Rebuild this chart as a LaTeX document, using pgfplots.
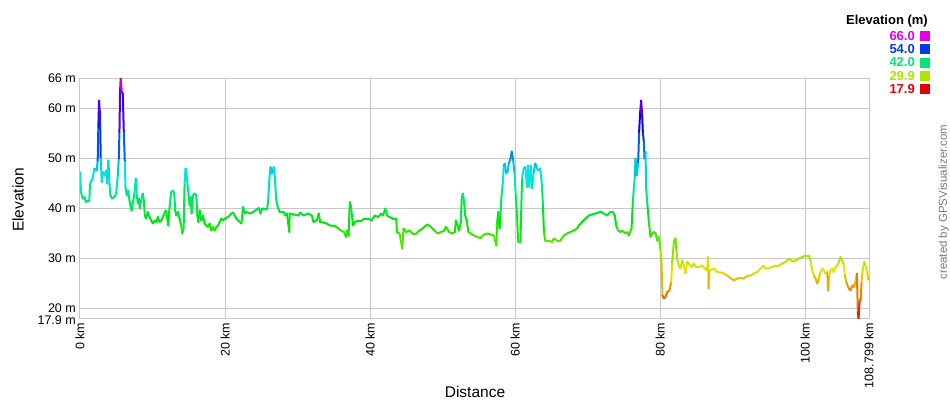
\documentclass[border=0pt]{standalone}
\usepackage{fontspec}
\setmainfont{Liberation Sans}
\usepackage{pgfplots}
\pgfplotsset{compat=1.18}

\definecolor{gridgray}{RGB}{200,200,200}
\definecolor{credgray}{RGB}{120,120,120}
\definecolor{k66}{RGB}{230,0,230}
\definecolor{k54}{RGB}{0,59,230}
\definecolor{k42}{RGB}{0,230,116}
\definecolor{k30}{RGB}{173,230,0}
\definecolor{k18}{RGB}{230,0,0}

\pgfplotstableread{
km elev
0.00 47.2
0.14 43.2
0.37 41.9
0.60 42.2
0.83 41.2
1.06 41.5
1.29 41.5
1.38 44.9
1.75 45.9
1.98 47.9
2.30 47.5
2.44 49.5
2.53 56.2
2.63 61.5
2.76 58.5
2.86 49.9
3.00 45.2
3.13 47.2
3.36 46.5
3.59 47.5
3.73 44.9
3.92 49.5
4.06 44.9
4.19 42.5
4.42 41.9
4.75 42.2
4.98 42.9
5.21 46.5
5.35 49.9
5.44 55.2
5.53 63.9
5.62 66.0
5.76 63.2
5.90 62.9
6.04 55.2
6.18 49.2
6.27 44.2
6.45 42.5
6.64 43.5
6.82 41.5
6.96 40.5
7.10 39.5
7.28 40.9
7.51 42.9
7.70 45.9
7.83 42.5
7.97 40.9
8.11 41.9
8.25 39.9
8.43 41.5
8.66 42.9
8.80 41.5
8.94 38.5
9.12 37.9
9.35 39.2
9.59 38.2
9.82 37.5
10.05 36.9
10.28 37.5
10.51 37.2
10.74 38.2
10.97 37.2
11.20 37.5
11.52 38.5
11.80 39.5
11.98 38.5
12.17 36.5
12.35 40.2
12.58 43.2
12.81 43.5
13.00 42.9
13.13 39.5
13.27 38.5
13.50 39.2
13.73 37.9
13.96 36.5
14.10 34.9
14.29 35.9
14.42 44.9
14.56 47.9
14.70 46.5
14.84 44.5
14.98 42.5
15.12 40.5
15.25 42.2
15.39 38.9
15.58 42.5
15.81 42.9
16.04 42.5
16.18 38.5
16.31 37.2
16.50 39.5
16.73 37.5
16.96 38.5
17.19 36.9
17.42 36.5
17.65 36.2
17.88 36.9
18.11 35.5
18.34 36.2
18.57 35.5
18.80 36.2
19.03 36.5
19.26 37.2
19.49 37.9
19.72 37.5
20.00 37.9
20.41 38.2
20.88 38.9
21.11 39.1
21.34 38.5
21.57 37.9
21.80 37.5
22.03 37.2
22.26 36.9
22.49 40.2
22.72 38.9
22.95 39.2
23.41 38.9
23.97 39.3
24.66 40.0
24.89 38.9
25.11 39.9
25.80 39.7
25.94 41.5
26.12 45.9
26.26 48.2
26.48 46.9
26.71 48.2
26.89 45.9
27.03 41.9
27.26 40.2
27.53 39.2
28.08 39.2
28.31 38.5
28.54 38.9
28.86 35.2
28.90 38.9
29.45 38.7
30.14 38.5
30.37 39.1
30.82 38.5
31.51 38.9
31.96 38.5
32.19 37.2
32.65 37.5
32.92 38.9
33.11 37.2
33.56 37.1
34.02 36.9
34.47 36.5
35.16 36.4
35.62 35.9
36.07 35.4
36.44 35.2
36.67 34.2
36.85 35.5
37.03 34.5
37.21 41.2
37.35 40.5
37.49 38.5
37.67 36.5
37.90 37.2
38.36 37.5
38.81 37.5
39.27 37.9
39.73 37.9
40.18 37.5
40.64 38.5
41.10 38.2
41.55 38.9
41.78 38.5
42.10 39.9
42.33 38.5
42.69 38.2
43.15 37.9
43.61 37.9
43.70 35.2
44.06 34.9
44.43 31.9
44.61 35.9
44.98 35.2
45.43 35.5
45.89 34.9
46.35 34.9
46.80 35.5
47.26 35.9
47.72 36.5
47.95 36.7
48.40 36.2
48.86 35.5
49.32 34.9
49.77 35.2
50.23 35.5
50.46 36.2
50.91 35.2
51.37 34.9
51.69 35.2
51.83 37.5
52.05 36.5
52.28 35.5
52.51 37.2
52.65 42.2
52.79 42.9
52.97 41.2
53.11 38.5
53.33 37.5
53.56 35.2
53.88 34.9
54.34 34.5
54.79 34.2
55.25 34.0
55.71 34.7
56.16 34.9
56.62 34.7
57.08 34.5
57.40 32.5
57.53 37.2
57.67 39.2
57.85 35.9
57.99 38.9
58.13 42.5
58.31 45.2
58.45 48.5
58.58 48.9
58.77 46.9
58.95 47.2
59.13 48.9
59.36 49.9
59.54 51.3
59.73 49.5
59.91 47.2
60.09 42.5
60.27 38.5
60.41 33.2
60.73 33.2
60.96 45.9
61.19 47.9
61.42 48.2
61.64 44.2
61.78 48.5
61.96 44.2
62.15 48.5
62.33 43.9
62.56 47.2
62.79 48.9
63.01 47.9
63.24 47.5
63.47 47.9
63.70 44.5
63.84 40.5
63.97 35.2
64.16 33.5
64.61 33.5
65.10 33.2
65.33 33.9
65.79 33.5
66.25 33.5
66.71 34.5
67.17 34.9
67.63 35.2
68.09 35.5
68.55 35.9
68.78 36.5
69.24 37.2
69.70 37.9
70.16 38.5
70.62 38.7
71.08 38.9
71.54 39.1
71.77 39.3
72.23 38.9
72.69 38.5
73.15 39.2
73.47 39.2
73.75 38.5
73.93 36.5
74.21 35.5
74.53 35.2
74.76 35.5
74.99 35.2
75.22 34.9
75.45 35.2
75.68 34.5
76.05 35.9
76.23 41.2
76.37 43.9
76.51 46.5
76.60 49.9
76.78 46.5
76.97 49.2
77.10 55.2
77.24 59.2
77.38 61.5
77.52 58.5
77.61 55.2
77.75 53.2
77.84 49.9
77.98 51.2
78.07 43.9
78.25 40.5
78.44 37.2
78.67 34.2
78.90 34.9
79.13 35.2
79.36 34.9
79.59 33.5
79.82 34.2
80.05 31.5
80.18 29.2
80.32 22.5
80.51 21.9
80.74 22.2
80.97 23.2
81.29 23.5
81.52 25.2
81.66 29.2
81.89 33.2
82.11 33.9
82.25 31.5
82.39 29.5
82.57 28.5
82.80 27.9
83.03 29.5
83.26 28.5
83.49 26.9
83.72 29.2
83.95 28.9
84.18 28.5
84.41 28.2
84.64 28.9
84.97 28.2
85.33 28.2
85.79 28.5
86.16 27.9
86.48 27.5
86.62 30.2
86.67 23.9
86.80 27.5
87.40 27.9
87.86 27.2
88.32 27.1
88.78 26.9
89.24 26.5
89.70 26.0
90.16 25.5
90.62 25.9
91.08 26.0
91.54 25.9
92.00 26.4
92.46 26.5
92.92 26.9
93.38 27.2
93.84 27.9
94.30 28.5
94.53 27.9
94.99 28.0
95.45 28.2
95.91 28.5
96.37 28.5
96.83 28.9
97.29 29.2
97.75 29.9
98.21 29.3
98.67 29.5
99.13 29.9
99.59 30.2
100.05 30.5
100.51 30.5
100.74 29.5
100.97 27.5
101.20 26.5
101.43 25.9
101.66 24.9
101.89 25.9
102.11 27.2
102.34 27.9
102.57 27.5
102.80 26.9
103.03 27.2
103.17 23.5
103.26 26.5
103.49 27.5
103.72 27.9
103.95 27.2
104.18 28.2
104.41 28.5
104.64 29.2
104.87 30.2
105.10 29.5
105.33 28.5
105.47 26.5
105.66 25.2
105.84 24.5
106.02 23.9
106.25 23.5
106.48 24.5
106.71 24.2
106.94 25.2
107.13 26.9
107.26 19.2
107.36 17.9
107.49 21.2
107.68 21.9
107.77 25.2
107.95 27.9
108.14 29.2
108.32 28.5
108.55 27.2
108.69 25.9
108.799 25.6
}\profile

\begin{document}
\begin{tikzpicture}
\useasboundingbox (-80pt,-81.5pt) rectangle (870pt,318.5pt);
\begin{axis}[
  at={(0pt,0pt)}, anchor=south west,
  scale only axis,
  width=789pt, height=240.5pt,
  xmin=0, xmax=108.799,
  ymin=17.9, ymax=66,
  xtick={0,20,40,60,80,100,108.799},
  xticklabels={0 km,20 km,40 km,60 km,80 km,100 km,108.799 km},
  ytick={20,30,40,50,60,66},
  yticklabels={20 m,30 m,40 m,50 m,60 m,66 m},
  extra y ticks={17.9},
  extra y tick labels={17.9 m},
  extra y tick style={grid=none, yticklabel style={yshift=-1.5pt}},
  major tick length=0pt,
  grid=major,
  grid style={gridgray, line width=1pt},
  axis line style={gridgray, line width=1pt},
  tick label style={font=\fontsize{12.5}{14}\selectfont, black},
  xticklabel style={rotate=90, anchor=east, inner xsep=4pt, inner ysep=0pt},
  yticklabel style={anchor=east, inner xsep=4pt, inner ysep=0pt},
  colormap={gps}{rgb255(0cm)=(230,0,0) rgb255(1cm)=(230,230,0) rgb255(2cm)=(0,230,0) rgb255(3cm)=(0,230,230) rgb255(4cm)=(0,0,230) rgb255(5cm)=(230,0,230)},
  point meta min=17.9, point meta max=66,
]
\addplot[mesh, point meta=y, line width=2pt, line cap=round] table[x=km, y=elev] {\profile};
\end{axis}

% axis titles
\node[rotate=90, font=\fontsize{15.5}{18}\selectfont] at (-62pt,118.5pt) {Elevation};
\node[font=\fontsize{15.5}{18}\selectfont] at (395pt,-73.5pt) {Distance};

% elevation key
\node[anchor=east, inner sep=0pt, font=\bfseries\fontsize{13}{15}\selectfont] at (848pt,297pt) {Elevation (m)};
\foreach \v/\c/\yy in {66.0/k66/282.5, 54.0/k54/269.5, 42.0/k42/256, 29.9/k30/242.5, 17.9/k18/229.5}{
  \node[anchor=east, inner sep=0pt, text=\c, font=\bfseries\fontsize{13}{15}\selectfont] at (835pt,\yy pt) {\v};
  \fill[\c] (840pt,\yy pt-5pt) rectangle (850pt,\yy pt+5pt);
}

% credit
\node[rotate=90, text=credgray, font=\fontsize{11.5}{13}\selectfont] at (864pt,116.5pt) {created by GPSVisualizer.com};
\end{tikzpicture}
\end{document}
